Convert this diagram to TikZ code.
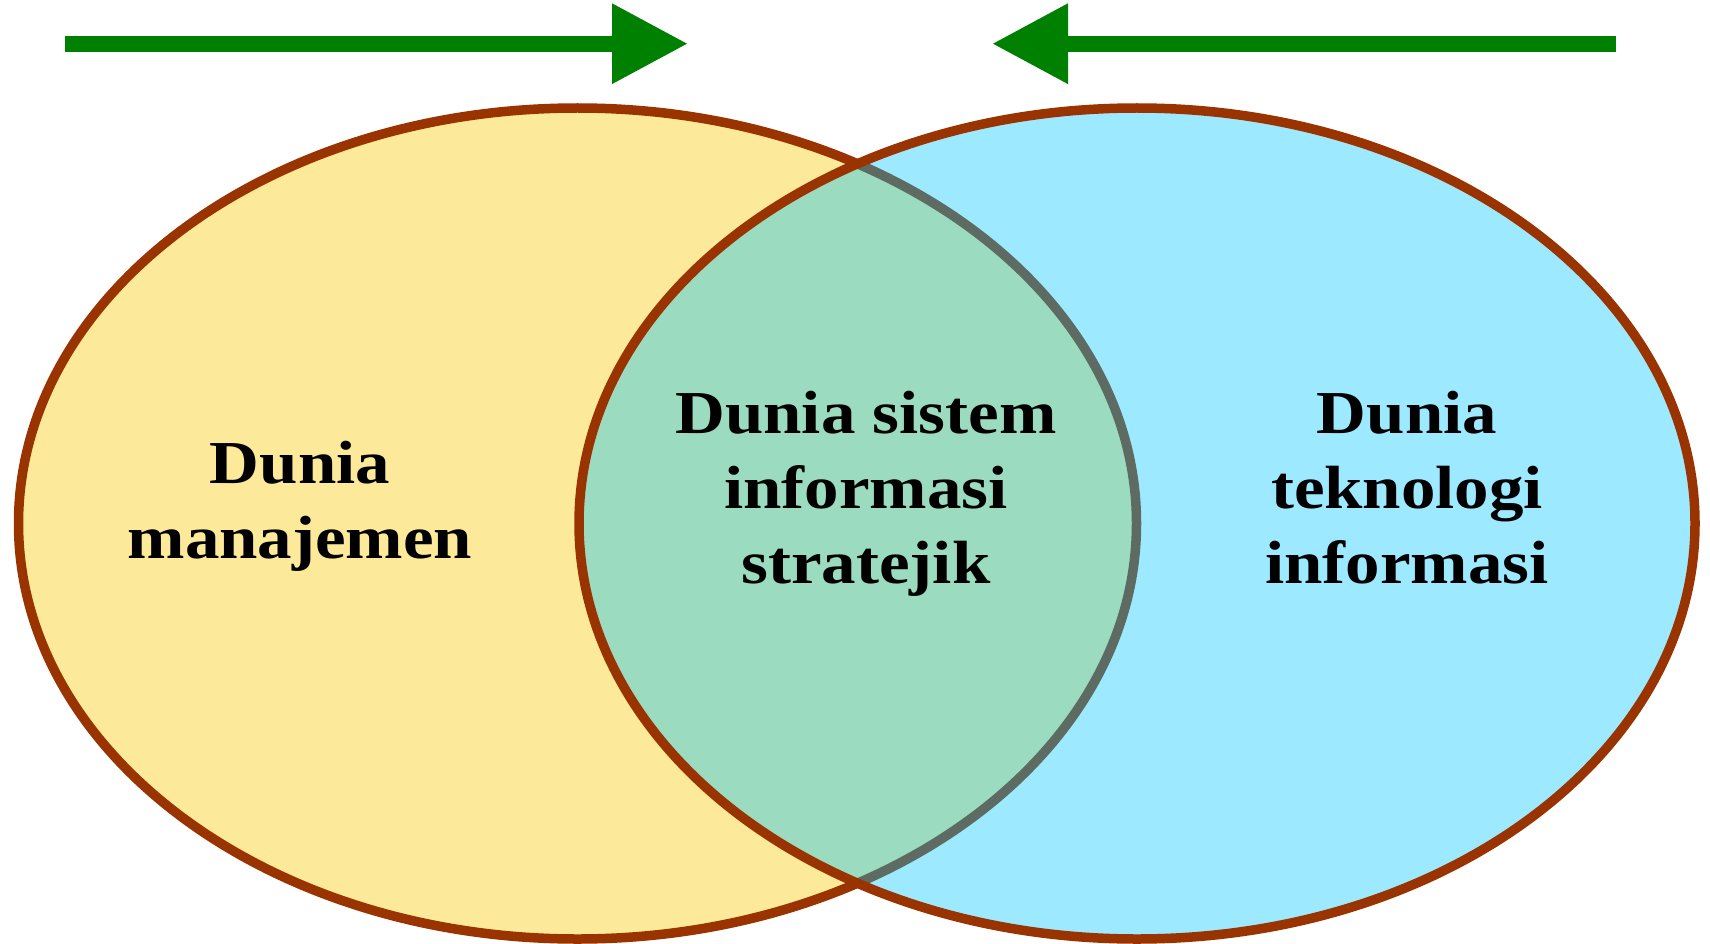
\documentclass[tikz,border=0pt]{standalone}
\usepackage{fontspec}
\setmainfont{Liberation Serif}[FakeStretch=1.13]
\usetikzlibrary{arrows.meta}
\definecolor{yel}{RGB}{253,233,154}
\definecolor{cyn}{RGB}{0,198,255}
\definecolor{brn}{RGB}{153,51,0}
\definecolor{grn}{RGB}{0,128,0}
\tikzset{
  lbl/.style={anchor=base,inner sep=0pt,font=\fontsize{61}{75}\selectfont\bfseries},
  bigarrow/.style={draw=grn,line width=16pt,-{Triangle[length=76pt,width=76pt]}},
  outline/.style={draw=brn,line width=9.5pt}
}
\begin{document}
\begin{tikzpicture}[x=1pt,y=-1pt]
\useasboundingbox (0,0) rectangle (1710,944);
% ellipses
\fill[yel] (577.5,523.5) ellipse [x radius=559,y radius=415.5];
\draw[outline] (577.5,523.5) ellipse [x radius=559,y radius=415.5];
\fill[cyn,fill opacity=0.385] (1137,523.5) ellipse [x radius=558,y radius=415.5];
\draw[outline] (1137,523.5) ellipse [x radius=558,y radius=415.5];
% arrows
\coordinate (a1s) at (65,43.7);
\coordinate (a1e) at (688,43.7);
\coordinate (a2s) at (1616,43.7);
\coordinate (a2e) at (992,43.7);
\draw[bigarrow] (a1s) -- (a1e);
\draw[bigarrow] (a2s) -- (a2e);
% labels
\node[lbl] (l1) at (300,483) {Dunia};
\node[lbl] (l2) at (300,558) {manajemen};
\node[lbl] (c1) at (866,433) {Dunia sistem};
\node[lbl] (c2) at (866,508) {informasi};
\node[lbl] (c3) at (866,583) {stratejik};
\node[lbl] (r1) at (1407,433) {Dunia};
\node[lbl] (r2) at (1407,508) {teknologi};
\node[lbl] (r3) at (1407,583) {informasi};
\end{tikzpicture}
\end{document}
